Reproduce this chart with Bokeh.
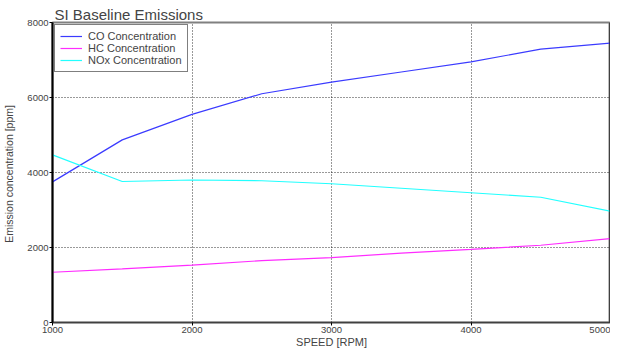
from bokeh.plotting import figure
from bokeh.models import Range1d, FixedTicker, Span, Legend
from bokeh.embed import file_html
from bokeh.resources import INLINE

speed = [1000, 1500, 2000, 2500, 3000, 3500, 4000, 4500, 5000]
co = [3750, 4870, 5550, 6100, 6410, 6680, 6950, 7290, 7450]
hc = [1340, 1430, 1530, 1650, 1730, 1850, 1950, 2060, 2240]
nox = [4470, 3760, 3800, 3780, 3700, 3580, 3460, 3340, 2970]
x_ticks = [1000, 2000, 3000, 4000, 5000]
y_ticks = [0, 2000, 4000, 6000, 8000]

FONT = "Liberation Sans"

p = figure(width=610, height=350, output_backend="svg", toolbar_location=None,
           x_range=Range1d(1000, 5000), y_range=Range1d(0, 8000),
           min_border_left=51, min_border_right=0, min_border_top=22, min_border_bottom=0,
           title="SI Baseline Emissions")
p.title.text_font = FONT
p.title.text_font_size = "15px"
p.title.text_font_style = "normal"
p.title.align = "left"
p.title.standoff = 0
p.title.offset = 2

p.outline_line_color = "#808080"
p.outline_line_width = 2

r1 = p.line(speed, co, line_color="#3b3bff", line_width=1.2)
r2 = p.line(speed, hc, line_color="#ff2cff", line_width=1.2)
r3 = p.line(speed, nox, line_color="#22ffff", line_width=1.2)

p.xaxis.ticker = FixedTicker(ticks=x_ticks)
p.yaxis.ticker = FixedTicker(ticks=y_ticks)
for ax in (p.xaxis[0], p.yaxis[0]):
    ax.major_label_text_font = FONT
    ax.major_label_text_font_size = "9.5px"
    ax.axis_label_text_font = FONT
    ax.axis_label_text_font_style = "normal"
    ax.axis_line_color = "black"
    ax.major_tick_line_color = "black"
    ax.major_tick_out = 3
    ax.major_tick_in = 0
    ax.minor_tick_line_color = None
    ax.major_label_standoff = 1
p.xaxis.axis_label_standoff = 0
p.yaxis.axis_label_standoff = 9
p.xaxis.axis_label_text_font_size = "11px"
p.yaxis.axis_label_text_font_size = "10.5px"
p.yaxis.axis_line_width = 2
p.xaxis.axis_line_width = 1.5
p.xaxis.axis_line_color = "#404040"
p.xaxis.axis_label = "SPEED [RPM]"
p.yaxis.axis_label = "Emission concentration  [ppm]"

p.xgrid.grid_line_color = "black"
p.ygrid.grid_line_color = "black"
p.xgrid.grid_line_dash = "1 2"
p.ygrid.grid_line_dash = "1 2"
p.xgrid.grid_line_alpha = 0.8
p.ygrid.grid_line_alpha = 0.8

p.add_layout(Span(location=5000, dimension="height", line_color="black", line_width=2))

legend = Legend(items=[("CO Concentration", [r1]), ("HC Concentration", [r2]), ("NOx Concentration", [r3])],
                location="top_left")
legend.label_text_font = FONT
legend.label_text_font_size = "11px"
legend.border_line_color = "black"
legend.border_line_width = 1
legend.background_fill_alpha = 1
legend.margin = 2
legend.padding = 5
legend.spacing = 0
legend.label_height = 12
legend.glyph_height = 12
legend.glyph_width = 22
legend.label_standoff = 6
p.add_layout(legend)

open("out.html", "w").write(file_html(p, INLINE))
